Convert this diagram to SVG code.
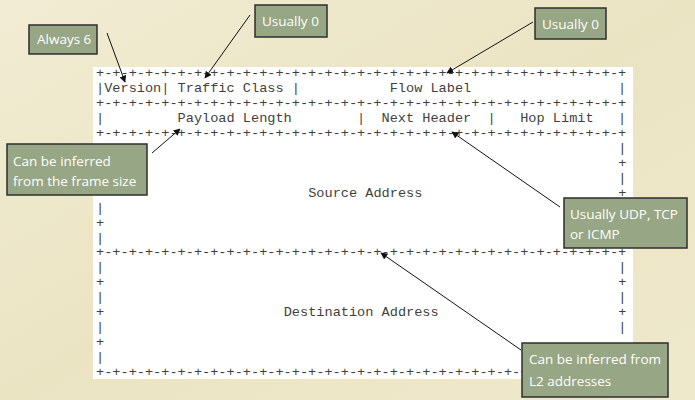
<svg xmlns="http://www.w3.org/2000/svg" width="695" height="400" viewBox="0 0 695 400">
<defs>
<style>
.mono{font-family:"Liberation Mono","Courier New",monospace;font-size:13.6px;fill:#3f3f3f;white-space:pre}
.box{fill:#97a684;stroke:#2e2e2e;stroke-width:1.5}
.lbl{font-family:"Open Sans","Liberation Sans",sans-serif;font-size:13.5px;fill:#ffffff}
.arr{stroke:#111;stroke-width:1;fill:none;marker-end:url(#ah)}
</style>
<marker id="ah" viewBox="0 0 10 10" refX="9" refY="5" markerWidth="7" markerHeight="7" markerUnits="userSpaceOnUse" orient="auto">
<path d="M0,0 L10,5 L0,10 z" fill="#111"/>
</marker>
<linearGradient id="bg" x1="0" y1="0" x2="1" y2="1">
<stop offset="0" stop-color="#f1ecd3"/>
<stop offset="0.5" stop-color="#ebe4c3"/>
<stop offset="1" stop-color="#efe9cc"/>
</linearGradient>
</defs>
<rect x="0" y="0" width="695" height="400" fill="url(#bg)"/>
<g id="header">
<rect x="93" y="67" width="540" height="312" fill="#ffffff"/>
<text class="mono" xml:space="preserve" x="96" y="77">+-+-+-+-+-+-+-+-+-+-+-+-+-+-+-+-+-+-+-+-+-+-+-+-+-+-+-+-+-+-+-+-+</text>
<text class="mono" xml:space="preserve" x="96" y="92">|Version| Traffic Class |           Flow Label                  |</text>
<text class="mono" xml:space="preserve" x="96" y="107">+-+-+-+-+-+-+-+-+-+-+-+-+-+-+-+-+-+-+-+-+-+-+-+-+-+-+-+-+-+-+-+-+</text>
<text class="mono" xml:space="preserve" x="96" y="122">|         Payload Length        |  Next Header  |   Hop Limit   |</text>
<text class="mono" xml:space="preserve" x="96" y="137">+-+-+-+-+-+-+-+-+-+-+-+-+-+-+-+-+-+-+-+-+-+-+-+-+-+-+-+-+-+-+-+-+</text>
</g>
<g id="source">
<text class="mono" x="96" y="212">|</text>
<text class="mono" x="96" y="227">+</text>
<text class="mono" x="96" y="242">|</text>
<text class="mono" x="618.2" y="152">|</text>
<text class="mono" x="618.2" y="167">+</text>
<text class="mono" x="618.2" y="182">|</text>
<text class="mono" x="618.2" y="197">+</text>
<text class="mono" x="308.2" y="197">Source Address</text>
<text class="mono" xml:space="preserve" x="96" y="256">+-+-+-+-+-+-+-+-+-+-+-+-+-+-+-+-+-+-+-+-+-+-+-+-+-+-+-+-+-+-+-+-+</text>
</g>
<g id="destination">
<text class="mono" x="96" y="271">|</text>
<text class="mono" x="96" y="286">+</text>
<text class="mono" x="96" y="301">|</text>
<text class="mono" x="96" y="316">+</text>
<text class="mono" x="96" y="331">|</text>
<text class="mono" x="96" y="346">+</text>
<text class="mono" x="96" y="361">|</text>
<text class="mono" x="618.2" y="271">|</text>
<text class="mono" x="618.2" y="286">+</text>
<text class="mono" x="618.2" y="301">|</text>
<text class="mono" x="618.2" y="316">+</text>
<text class="mono" x="618.2" y="331">|</text>
<text class="mono" x="283.7" y="316">Destination Address</text>
<text class="mono" xml:space="preserve" x="96" y="376">+-+-+-+-+-+-+-+-+-+-+-+-+-+-+-+-+-+-+-+-+-+-+-+-+-+-+</text>
</g>
<g id="connectors">
<line class="arr" x1="107" y1="33" x2="125" y2="82"/>
<line class="arr" x1="250" y1="15" x2="205" y2="78"/>
<line class="arr" x1="533" y1="22" x2="447" y2="73"/>
<line class="arr" x1="152" y1="153" x2="180" y2="129"/>
<line class="arr" x1="560" y1="207" x2="452" y2="132"/>
<line class="arr" x1="521" y1="350" x2="381" y2="253"/>
</g>
<g id="always6">
<rect class="box" x="29" y="25" width="68" height="29"/>
<text class="lbl" x="37" y="44">Always 6</text>
</g>
<g id="usually0a">
<rect class="box" x="255" y="5" width="72" height="32"/>
<text class="lbl" x="262" y="26">Usually 0</text>
</g>
<g id="usually0b">
<rect class="box" x="535" y="8" width="71" height="31"/>
<text class="lbl" x="542" y="29">Usually 0</text>
</g>
<g id="framesize">
<rect class="box" x="7" y="144" width="140" height="51"/>
<text class="lbl" x="13" y="166">Can be inferred</text>
<text class="lbl" x="13" y="186">from the frame size</text>
</g>
<g id="udp">
<rect class="box" x="564" y="198" width="123" height="50"/>
<text class="lbl" x="570" y="219">Usually UDP, TCP</text>
<text class="lbl" x="570" y="239">or ICMP</text>
</g>
<g id="l2">
<rect class="box" x="522" y="343" width="146" height="54"/>
<text class="lbl" x="529" y="364">Can be inferred from</text>
<text class="lbl" x="529" y="386">L2 addresses</text>
</g>
</svg>
